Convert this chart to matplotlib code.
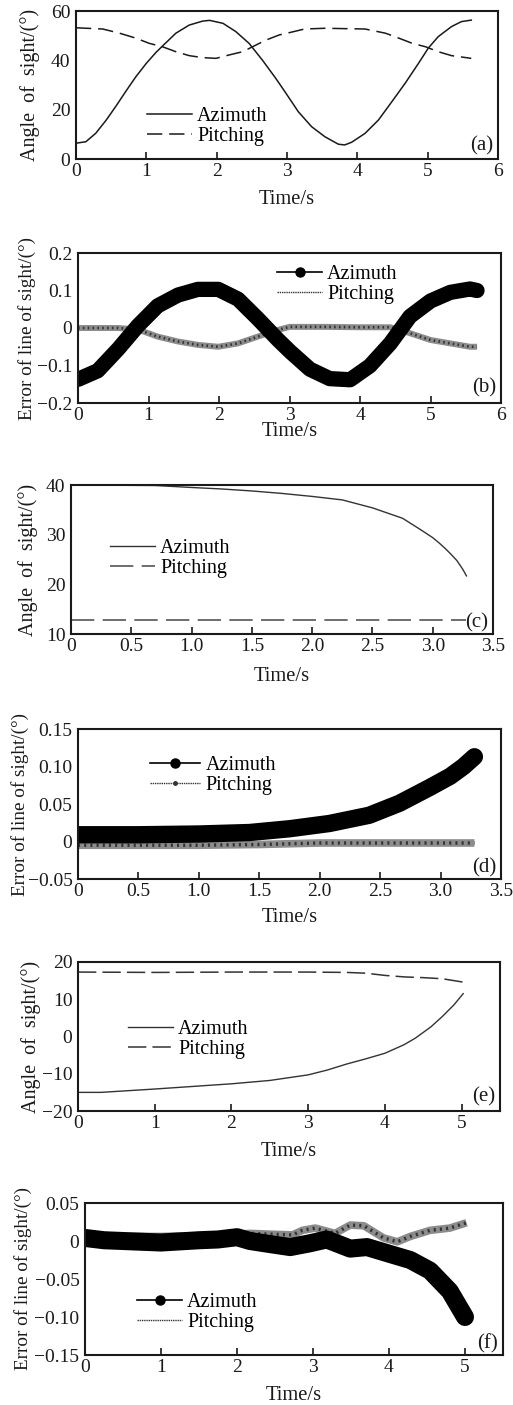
import matplotlib
matplotlib.use('Agg')
import matplotlib.pyplot as plt
from matplotlib.lines import Line2D

plt.rcParams['font.family'] = ['Liberation Serif', 'DejaVu Serif']
plt.rcParams['axes.unicode_minus'] = True

# ---------------- data ----------------
# (a) angle of sight, case 1
a_t = [0, 0.14, 0.28, 0.43, 0.57, 0.71, 0.85, 1.0, 1.14, 1.23, 1.42, 1.61, 1.8, 1.9,
       2.09, 2.27, 2.46, 2.65, 2.84, 2.97, 3.16, 3.35, 3.54, 3.73, 3.82, 3.92, 4.11,
       4.3, 4.49, 4.68, 4.87, 5.01, 5.15, 5.34, 5.48, 5.62]
a_az = [6.4, 7.0, 10.4, 15.8, 21.5, 27.5, 33.3, 38.8, 43.3, 45.8, 51, 54.3, 55.9, 56.2,
        55, 51.7, 46.9, 40.1, 32.7, 27.3, 19.2, 13.1, 9.0, 6.0, 5.7, 6.8, 10.4,
        15.8, 23.2, 30.7, 38.8, 45.0, 49.6, 53.7, 55.7, 56.3]
a_pt = [0, 0.38, 0.62, 0.85, 1.04, 1.23, 1.42, 1.61, 1.8, 1.99, 2.18, 2.37, 2.51, 2.7,
        2.89, 3.06, 3.25, 3.54, 4.11, 4.4, 4.59, 4.78, 4.97, 5.15, 5.34, 5.62]
a_pi = [53.2, 52.7, 51, 49, 46.9, 45.5, 43.5, 41.9, 41.1, 40.8, 42.2, 43.5, 45.5, 48.2,
        50.3, 51.4, 52.7, 53, 52.7, 51, 49, 46.9, 45.5, 43.5, 41.9, 40.8]

# (b) error of line of sight, case 1
b_t = [0, 0.28, 0.57, 0.85, 1.13, 1.42, 1.7, 1.99, 2.27, 2.55, 2.84, 3.01, 3.29, 3.57,
       3.86, 4.14, 4.43, 4.71, 5.0, 5.28, 5.56, 5.66]
b_az = [-0.137, -0.114, -0.056, 0.006, 0.059, 0.088, 0.103, 0.103, 0.077, 0.025, -0.032,
        -0.063, -0.11, -0.135, -0.138, -0.101, -0.041, 0.031, 0.072, 0.095, 0.104, 0.1]
b_pt = [0, 0.57, 0.85, 1.13, 1.42, 1.7, 1.99, 2.27, 2.55, 2.84, 3.0, 3.5, 4.0, 4.43,
        4.71, 5.0, 5.28, 5.56, 5.66]
b_pi = [0, 0, -0.004, -0.023, -0.036, -0.045, -0.05, -0.041, -0.023, -0.005, 0.003,
        0.003, 0.002, 0.002, -0.014, -0.032, -0.041, -0.05, -0.05]

# (c) angle of sight, case 2
c_t = [0, 0.7, 1.0, 1.25, 1.5, 1.75, 2.0, 2.25, 2.5, 2.75, 2.9, 3.0, 3.05, 3.1, 3.15,
       3.2, 3.25, 3.28]
c_az = [40, 39.9, 39.5, 39.2, 38.8, 38.3, 37.7, 37, 35.4, 33.3, 31.0, 29.4, 28.4, 27.3,
        26.1, 24.8, 23.0, 21.7]
c_pt = [0, 3.28]
c_pi = [12.8, 12.8]

# (d) error of line of sight, case 2
d_t = [0, 0.5, 1.0, 1.42, 1.75, 2.08, 2.41, 2.66, 2.91, 3.08, 3.19, 3.28]
d_az = [0.009, 0.009, 0.010, 0.012, 0.017, 0.024, 0.035, 0.051, 0.072, 0.087, 0.1, 0.113]
d_pt = [0, 0.5, 1.0, 1.5, 1.75, 2.0, 2.5, 3.0, 3.28]
d_pi = [-0.005, -0.005, -0.005, -0.004, -0.003, -0.002, -0.002, -0.002, -0.002]

# (e) angle of sight, case 3
e_t = [0, 0.3, 1.0, 1.5, 2.0, 2.5, 3.0, 3.25, 3.5, 3.75, 4.0, 4.25, 4.4, 4.6, 4.75,
       4.9, 5.02]
e_az = [-15.0, -15.0, -14.1, -13.4, -12.7, -11.8, -10.3, -9.0, -7.4, -6.0, -4.5, -2.2,
        -0.4, 2.6, 5.4, 8.5, 11.5]
e_pt = [0, 1, 2, 3, 3.5, 3.75, 4.0, 4.25, 4.5, 4.75, 5.02]
e_pi = [17.3, 17.2, 17.3, 17.3, 17.2, 17.0, 16.4, 16.0, 15.8, 15.5, 14.6]

# (f) error of line of sight, case 3
f_t = [0, 0.25, 0.5, 1.0, 1.5, 1.75, 2.0, 2.17, 2.43, 2.7, 2.96, 3.18, 3.49, 3.71,
       4.01, 4.28, 4.54, 4.8, 5.0]
f_az = [0.004, 0.001, 0.0, -0.002, 0.001, 0.002, 0.005, 0.0, -0.004, -0.008, -0.003,
        0.002, -0.01, -0.008, -0.017, -0.025, -0.039, -0.066, -0.1]
f_pt = [0, 0.5, 1.0, 1.5, 2.0, 2.17, 2.43, 2.73, 2.86, 3.03, 3.29, 3.49, 3.67, 3.93,
        4.11, 4.28, 4.54, 4.8, 5.02]
f_pi = [0.008, 0.006, 0.006, 0.007, 0.009, 0.01, 0.009, 0.008, 0.014, 0.017, 0.01,
        0.021, 0.02, 0.004, -0.001, 0.006, 0.014, 0.017, 0.024]

labels = ['Azimuth', 'Pitching']
xlabel = 'Time/s'
ylab_angle = 'Angle  of  sight/(°)'
ylab_err = 'Error of line of sight/(°)'

# ---------------- figure ----------------
W, H = 513, 1405
fig = plt.figure(figsize=(W / 100, H / 100), dpi=100)
fig.patch.set_facecolor('white')

TICK_FS = 14
LEG_FS = 14.5
XLAB_FS = 14.8
YLAB_FS = 14
TAG_FS = 15
INK = '#1a1a1a'


def add_ax(l, r, t, b):
    ax = fig.add_axes([l / W, 1 - b / H, (r - l) / W, (b - t) / H])
    for s in ax.spines.values():
        s.set_linewidth(1.5)
        s.set_color(INK)
    ax.tick_params(axis='x', direction='in', length=5, width=1.2, pad=3,
                   labelsize=TICK_FS, top=False, colors=INK)
    ax.tick_params(axis='y', length=0, pad=4, labelsize=TICK_FS, colors=INK)
    return ax


def finish(ax, xlim, xticks, xtl, ylim, yticks, ytl, ylabel, ylx, ylfs, xly, tag, tagy):
    ax.set_xlim(*xlim)
    ax.set_ylim(*ylim)
    ax.set_xticks(xticks)
    ax.set_xticklabels(xtl)
    ax.set_yticks(yticks)
    ax.set_yticklabels(ytl)
    pos = ax.get_position()
    fig.text((pos.x0 + pos.x1) / 2, 1 - xly / H, xlabel, ha='center', va='center',
             fontsize=XLAB_FS, color=INK)
    fig.text(ylx / W, (pos.y0 + pos.y1) / 2, ylabel, rotation=90, ha='center',
             va='center', fontsize=ylfs, color=INK)
    ax.text(0.988, tagy, tag, transform=ax.transAxes, ha='right', va='center',
            fontsize=TAG_FS, color=INK)


def legend(ax, handles, x, y, hl=2.24):
    ax.legend(handles, labels, loc='upper left', bbox_to_anchor=(x / W, 1 - y / H),
              bbox_transform=fig.transFigure, frameon=False, borderpad=0,
              borderaxespad=0, handlelength=hl, handletextpad=0.25, labelspacing=0.05,
              fontsize=LEG_FS)


def mfmt(v):
    return ('−' + v[1:]) if v.startswith('-') else v


def noisy(ax, t, v, lw, color='#8c8c8c'):
    ax.plot(t, v, color=color, lw=lw, solid_capstyle='butt', solid_joinstyle='round')
    ax.plot(t, v, color='#333333', lw=lw * 0.45, ls=(0, (0.6, 1.2)))


def band(ax, t, v, lw):
    ax.plot(t, v, color='black', lw=lw, solid_capstyle='round', solid_joinstyle='round')


# (a)
ax = add_ax(76, 498, 11, 159)
l1, = ax.plot(a_t, a_az, color=INK, lw=1.1)
l2, = ax.plot(a_pt, a_pi, color=INK, lw=1.1, dashes=(10, 4.5))
legend(ax, [l1, l2], 147, 107)
finish(ax, (0, 6), range(7), [str(i) for i in range(7)], (0, 60), [0, 20, 40, 60],
       ['0', '20', '40', '60'], ylab_angle, 30, 14.5, 200, '(a)', 0.09)

# (b)
ax = add_ax(78, 501, 253, 403)
noisy(ax, b_pt, b_pi, 4.3)
band(ax, b_t, b_az, 11)
h1 = Line2D([], [], color='black', lw=1.2, marker='o', markersize=6.5)
h2 = Line2D([], [], color='#333333', lw=1.0, ls=(0, (1, 0.6)))
legend(ax, [h1, h2], 277, 265)
finish(ax, (0, 6), range(7), [str(i) for i in range(7)], (-0.2, 0.2),
       [-0.2, -0.1, 0, 0.1, 0.2], [mfmt(s) for s in ['-0.2', '-0.1', '0', '0.1', '0.2']],
       ylab_err, 27, 13.8, 432, '(b)', 0.1)

# (c)
ax = add_ax(71, 493, 485, 634)
l1, = ax.plot(c_t, c_az, color='#333333', lw=1.0)
l2, = ax.plot(c_pt, c_pi, color='#555555', lw=1.2, dashes=(14, 5))
legend(ax, [l1, l2], 110, 539)
xt = [0, 0.5, 1.0, 1.5, 2.0, 2.5, 3.0, 3.5]
finish(ax, (0, 3.5), xt, ['0', '0.5', '1.0', '1.5', '2.0', '2.5', '3.0', '3.5'],
       (10, 40), [10, 20, 30, 40], ['10', '20', '30', '40'], ylab_angle, 28, 14.5, 676,
       '(c)', 0.074)

# (d)
ax = add_ax(78, 501, 729, 879)
noisy(ax, d_pt, d_pi, 5.5)
band(ax, d_t, d_az, 12.5)
h1 = Line2D([], [], color='black', lw=1.2, marker='o', markersize=6.5)
h2 = Line2D([], [], color='#333333', lw=1.0, ls=(0, (1, 0.6)), marker='o', markersize=2.5)
legend(ax, [h1, h2], 150, 756, hl=2.5)
finish(ax, (0, 3.5), xt, ['0', '0.5', '1.0', '1.5', '2.0', '2.5', '3.0', '3.5'],
       (-0.05, 0.15), [-0.05, 0, 0.05, 0.10, 0.15],
       [mfmt(s) for s in ['-0.05', '0', '0.05', '0.10', '0.15']], ylab_err, 20, 13.8,
       918, '(d)', 0.073)

# (e)
ax = add_ax(78, 500, 962, 1111)
l1, = ax.plot(e_t, e_az, color='#333333', lw=1.0)
l2, = ax.plot(e_pt, e_pi, color='#333333', lw=1.1, dashes=(12, 4))
legend(ax, [l1, l2], 128, 1020)
finish(ax, (0, 5.5), range(6), [str(i) for i in range(6)], (-20, 20),
       [-20, -10, 0, 10, 20], [mfmt(s) for s in ['-20', '-10', '0', '10', '20']],
       ylab_angle, 31, 14.5, 1151, '(e)', 0.094)

# (f)
ax = add_ax(85, 503, 1203, 1355)
noisy(ax, f_pt, f_pi, 5.5)
band(ax, f_t, f_az, 13)
h1 = Line2D([], [], color='black', lw=1.2, marker='o', markersize=6.5)
h2 = Line2D([], [], color='#333333', lw=1.0, ls=(0, (1, 0.6)))
legend(ax, [h1, h2], 137, 1293)
finish(ax, (0, 5.5), range(6), [str(i) for i in range(6)], (-0.15, 0.05),
       [-0.15, -0.10, -0.05, 0, 0.05],
       [mfmt(s) for s in ['-0.15', '-0.10', '-0.05', '0', '0.05']], ylab_err, 23, 13.8,
       1395, '(f)', 0.072)

fig.savefig('out.png', dpi=100, facecolor='white')
